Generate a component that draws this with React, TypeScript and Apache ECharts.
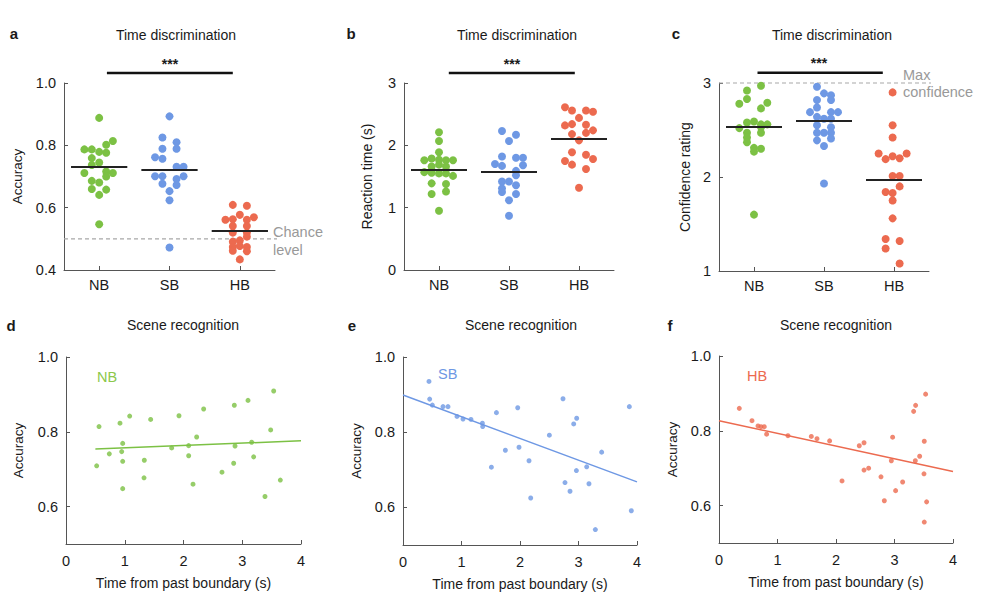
import React, { useEffect, useRef } from 'react';
import * as echarts from 'echarts';

// ---------- data ----------
const GROUPS = ['NB', 'SB', 'HB'];
const COLORS = ['#7cc144', '#6e98e4', '#ec6a4f'];

// Panel a: accuracy (time discrimination) — [jitter, value]
const accNB = [[0, 0.888], [0.195, 0.814], [0.1, 0.802], [-0.21, 0.787], [-0.105, 0.787], [0, 0.779], [0.1, 0.776], [-0.105, 0.759], [0, 0.745], [-0.105, 0.737], [-0.21, 0.711], [0.195, 0.711], [0.1, 0.716], [0.1, 0.7], [-0.105, 0.686], [0, 0.681], [-0.105, 0.66], [0.1, 0.658], [0, 0.641], [0, 0.547]];
const accSB = [[0, 0.893], [-0.1, 0.825], [0.1, 0.81], [-0.1, 0.789], [0.1, 0.789], [-0.205, 0.762], [-0.1, 0.757], [0.1, 0.731], [0.2, 0.731], [-0.205, 0.701], [-0.1, 0.701], [0.2, 0.701], [0.1, 0.692], [-0.1, 0.677], [0.1, 0.673], [0, 0.653], [0, 0.624], [0, 0.472]];
const accHB = [[-0.1, 0.609], [0.1, 0.606], [0, 0.577], [-0.205, 0.561], [-0.1, 0.563], [0.1, 0.561], [0.2, 0.569], [-0.1, 0.541], [0.1, 0.541], [-0.1, 0.52], [0.1, 0.52], [0.1, 0.507], [-0.1, 0.491], [0, 0.495], [-0.1, 0.474], [0, 0.477], [0.1, 0.474], [-0.1, 0.462], [0.1, 0.46], [0, 0.434]];
const accMeans = [0.73, 0.723, 0.526];

// Panel b: reaction time (s)
const rtNB = [[0, 2.21], [0, 2.07], [0, 1.89], [-0.21, 1.76], [-0.105, 1.79], [0, 1.77], [0.1, 1.76], [0.2, 1.76], [-0.105, 1.66], [0, 1.69], [0.1, 1.66], [-0.21, 1.57], [-0.105, 1.56], [0, 1.55], [0.1, 1.55], [0.2, 1.51], [-0.105, 1.39], [0.1, 1.38], [-0.105, 1.22], [0.1, 1.26], [0, 0.95]];
const rtSB = [[-0.1, 2.23], [0.1, 2.17], [0, 2.07], [-0.1, 1.82], [0.1, 1.8], [0.2, 1.8], [-0.2, 1.7], [-0.1, 1.67], [0.2, 1.68], [0.1, 1.59], [0.1, 1.52], [-0.1, 1.42], [0, 1.42], [0.1, 1.36], [-0.1, 1.31], [-0.1, 1.25], [0.1, 1.22], [0, 1.12], [0, 0.87]];
const rtHB = [[-0.2, 2.61], [-0.1, 2.56], [0.1, 2.56], [0.2, 2.54], [0, 2.44], [-0.2, 2.32], [-0.1, 2.34], [0.1, 2.33], [0.2, 2.24], [0.1, 2.2], [-0.1, 2.18], [0, 2.08], [-0.1, 1.89], [0.1, 1.85], [0.2, 1.78], [-0.2, 1.75], [-0.1, 1.69], [0.1, 1.62], [0, 1.32]];
const rtMeans = [1.61, 1.58, 2.1];

// Panel c: confidence rating
const confNB = [[0.1, 2.97], [-0.1, 2.92], [-0.1, 2.83], [-0.21, 2.78], [0.19, 2.79], [0.1, 2.73], [-0.1, 2.58], [0, 2.59], [0.1, 2.56], [0.19, 2.56], [-0.21, 2.52], [0.1, 2.53], [-0.1, 2.47], [0.1, 2.47], [-0.1, 2.42], [-0.1, 2.37], [0, 2.31], [0.1, 2.3], [0, 2.27], [0, 1.6]];
const confSB = [[-0.1, 2.96], [0, 2.89], [0.1, 2.87], [-0.1, 2.82], [0.1, 2.82], [-0.1, 2.74], [-0.2, 2.69], [0.1, 2.69], [0.2, 2.69], [-0.1, 2.64], [0, 2.62], [0.1, 2.62], [-0.1, 2.55], [0.1, 2.53], [-0.1, 2.47], [0, 2.47], [0.1, 2.47], [-0.1, 2.39], [0.1, 2.41], [0, 2.33], [0, 1.93]];
const confHB = [[-0.02, 2.9], [-0.02, 2.55], [-0.02, 2.42], [-0.22, 2.25], [-0.12, 2.19], [-0.02, 2.22], [0.08, 2.2], [0.18, 2.25], [-0.02, 2.01], [0.08, 2.01], [0.08, 1.9], [-0.12, 1.84], [-0.02, 1.83], [-0.02, 1.75], [-0.02, 1.56], [-0.12, 1.34], [0.08, 1.32], [-0.12, 1.24], [0.08, 1.08]];
const confMeans = [2.53, 2.6, 1.97];

// Significance bars ([x, y] endpoints in data units)
const sigA = [[1.11, 1.032], [2.9, 1.032]];
const sigB = [[1.14, 3.16], [2.94, 3.16]];
const sigC = [[1.05, 3.11], [2.84, 3.11]];

// Reference lines
const chanceLine = [[0.5, 0.5], [3.7, 0.5]];
const maxConfLine = [[0.5, 3], [3.7, 3]];

// Panels d–f: scene recognition — [time from boundary (s), accuracy]
const sceneNB = [[0.562, 0.814], [0.522, 0.709], [0.737, 0.741], [0.919, 0.823], [0.965, 0.769], [0.948, 0.747], [0.965, 0.721], [0.965, 0.648], [1.084, 0.842], [1.333, 0.724], [1.328, 0.677], [1.441, 0.833], [1.799, 0.757], [1.923, 0.843], [2.088, 0.763], [2.088, 0.736], [2.162, 0.66], [2.224, 0.786], [2.343, 0.861], [2.655, 0.692], [2.854, 0.716], [2.865, 0.871], [2.877, 0.762], [3.098, 0.884], [3.16, 0.772], [3.194, 0.733], [3.387, 0.627], [3.484, 0.805], [3.535, 0.909], [3.648, 0.671]];
const sceneSB = [[0.444, 0.935], [0.456, 0.888], [0.502, 0.872], [0.684, 0.868], [0.769, 0.868], [0.923, 0.842], [1.026, 0.835], [1.162, 0.834], [1.357, 0.824], [1.362, 0.815], [1.597, 0.852], [1.511, 0.707], [1.75, 0.752], [1.961, 0.865], [1.983, 0.76], [2.154, 0.724], [2.183, 0.625], [2.502, 0.792], [2.735, 0.889], [2.769, 0.666], [2.855, 0.643], [2.918, 0.822], [2.969, 0.837], [2.964, 0.698], [3.14, 0.708], [3.179, 0.663], [3.288, 0.541], [3.396, 0.747], [3.869, 0.868], [3.903, 0.591]];
const sceneHB = [[0.347, 0.86], [0.564, 0.827], [0.667, 0.813], [0.718, 0.811], [0.774, 0.811], [0.814, 0.791], [1.179, 0.787], [1.578, 0.785], [1.675, 0.779], [1.891, 0.773], [2.103, 0.666], [2.398, 0.76], [2.479, 0.768], [2.479, 0.695], [2.558, 0.7], [2.769, 0.677], [2.826, 0.613], [2.946, 0.72], [2.968, 0.783], [3.019, 0.64], [3.139, 0.663], [3.327, 0.852], [3.361, 0.868], [3.356, 0.72], [3.43, 0.732], [3.509, 0.772], [3.504, 0.685], [3.532, 0.898], [3.549, 0.61], [3.509, 0.556]];

// Regression fits: endpoints
const fitNB = [[0.5, 0.754], [4.0, 0.776]];
const fitSB = [[0, 0.899], [4.0, 0.668]];
const fitHB = [[0, 0.827], [4.0, 0.691]];

const bottomXTicks = [0, 1, 2, 3, 4];
const bottomYTicks = [0.6, 0.8, 1.0];

const FONT = '"Liberation Sans", Arial, Helvetica, sans-serif';
const AXIS_COLOR = '#555';
const TEXT = '#1a1a1a';

export default function App() {
  const ref = useRef<HTMLDivElement>(null);

  useEffect(() => {
    if (!ref.current) return;
    const chart = echarts.init(ref.current, null, { renderer: 'svg' });

    const topGrids = [
      { left: 64, top: 83, width: 211, height: 187 },
      { left: 404, top: 83, width: 210, height: 187 },
      { left: 719, top: 83, width: 210, height: 188 },
    ];
    const bottomGrids = [
      { left: 66, top: 357, width: 235, height: 187 },
      { left: 403, top: 357, width: 234, height: 188 },
      { left: 719, top: 356, width: 234, height: 187 },
    ];
    const grids = [...topGrids, ...bottomGrids];

    const axisLine = { show: true, lineStyle: { color: AXIS_COLOR, width: 1 } };
    const labelStyle = { color: TEXT, fontSize: 14.5, fontFamily: FONT };
    const nameStyle = { color: TEXT, fontSize: 13.5, fontFamily: FONT };

    const topY = [
      { min: 0.4, max: 1.0, interval: 0.2, name: 'Accuracy', gap: 40, size: 13.5, fmt: (v: number) => v.toFixed(1) },
      { min: 0, max: 3, interval: 1, name: 'Reaction time (s)', gap: 30, size: 14, fmt: (v: number) => String(v) },
      { min: 1, max: 3, interval: 1, name: 'Confidence rating', gap: 27, size: 14, fmt: (v: number) => String(v) },
    ];

    const xAxis: any[] = [];
    const yAxis: any[] = [];
    topY.forEach((c, i) => {
      xAxis.push({
        type: 'value', gridIndex: i, min: 0.5, max: 3.5,
        axisLine, splitLine: { show: false },
        axisTick: { show: true, inside: true, length: 4, lineStyle: { color: AXIS_COLOR }, customValues: [1, 2, 3] },
        axisLabel: {
          ...labelStyle, margin: 7, customValues: [1, 2, 3],
          formatter: (v: number) => (Number.isInteger(v) && v >= 1 && v <= 3 ? GROUPS[v - 1] : ''),
        },
      });
      yAxis.push({
        type: 'value', gridIndex: i, min: c.min, max: c.max, interval: c.interval,
        axisLine, splitLine: { show: false },
        axisTick: { show: true, inside: true, length: 4, lineStyle: { color: AXIS_COLOR } },
        axisLabel: { ...labelStyle, margin: 8, formatter: c.fmt },
        name: c.name, nameLocation: 'middle', nameGap: c.gap, nameRotate: 90,
        nameTextStyle: { ...nameStyle, fontSize: c.size },
      });
    });
    const bottomGaps = [41, 40, 40];
    bottomGrids.forEach((_, j) => {
      const gi = 3 + j;
      xAxis.push({
        type: 'value', gridIndex: gi, min: 0, max: 4, interval: 1,
        axisLine, splitLine: { show: false },
        axisTick: { show: true, inside: true, length: 4, lineStyle: { color: AXIS_COLOR }, customValues: bottomXTicks },
        axisLabel: { ...labelStyle, margin: 9, customValues: bottomXTicks },
        name: 'Time from past boundary (s)', nameLocation: 'middle', nameGap: 32,
        nameTextStyle: { ...nameStyle, fontSize: 14 },
      });
      yAxis.push({
        type: 'value', gridIndex: gi, min: 0.5, max: 1.0,
        axisLine, splitLine: { show: false },
        axisTick: { show: true, inside: true, length: 4, lineStyle: { color: AXIS_COLOR }, customValues: bottomYTicks },
        axisLabel: { ...labelStyle, margin: 8, customValues: bottomYTicks, formatter: (v: number) => v.toFixed(1) },
        name: 'Accuracy', nameLocation: 'middle', nameGap: bottomGaps[j], nameRotate: 90, nameTextStyle: nameStyle,
      });
    });

    const series: any[] = [];
    const topData = [
      { groups: [accNB, accSB, accHB], means: accMeans, sig: sigA, ref: chanceLine },
      { groups: [rtNB, rtSB, rtHB], means: rtMeans, sig: sigB, ref: null },
      { groups: [confNB, confSB, confHB], means: confMeans, sig: sigC, ref: maxConfLine },
    ];
    topData.forEach((p, i) => {
      if (p.ref) {
        series.push({
          type: 'line', xAxisIndex: i, yAxisIndex: i, data: p.ref, symbol: 'none', clip: false, silent: true,
          lineStyle: { color: '#a8a8a8', width: 1.2, type: [4, 3] }, z: 1,
        });
      }
      p.groups.forEach((g, k) => {
        series.push({
          type: 'scatter', xAxisIndex: i, yAxisIndex: i, symbolSize: 8, clip: false,
          itemStyle: { color: COLORS[k], opacity: 1 },
          data: g.map(([off, v]) => [k + 1 + off, v]),
          z: 2,
          markLine: {
            silent: true, symbol: ['none', 'none'], label: { show: false }, z: 5,
            lineStyle: { color: '#222', width: 2, type: 'solid' },
            data: [[{ coord: [k + 1 - 0.4, p.means[k]] }, { coord: [k + 1 + 0.4, p.means[k]] }]],
          },
        });
      });
      series.push({
        type: 'line', xAxisIndex: i, yAxisIndex: i, data: p.sig, symbol: 'none', clip: false, silent: true,
        lineStyle: { color: '#111', width: 2.5 }, z: 3,
      });
    });

    const bottomData = [
      { pts: sceneNB, fit: fitNB },
      { pts: sceneSB, fit: fitSB },
      { pts: sceneHB, fit: fitHB },
    ];
    bottomData.forEach((p, j) => {
      const gi = 3 + j;
      series.push({
        type: 'scatter', xAxisIndex: gi, yAxisIndex: gi, symbolSize: 5, clip: false,
        itemStyle: { color: COLORS[j] }, data: p.pts, z: 2,
      });
      series.push({
        type: 'line', xAxisIndex: gi, yAxisIndex: gi, data: p.fit, symbol: 'none', silent: true,
        lineStyle: { color: COLORS[j], width: 1.5 }, z: 3,
      });
    });

    const txt = (text: string, x: number, y: number, o: any = {}) => ({
      type: 'text', x, y, silent: true,
      style: {
        text, fill: o.fill || TEXT, fontSize: o.size || 13, fontFamily: FONT,
        fontWeight: o.weight || 'normal', align: o.align || 'center', verticalAlign: 'middle',
      },
    });

    const graphic = [
      txt('a', 14, 33, { weight: 'bold', size: 15 }),
      txt('b', 351, 33, { weight: 'bold', size: 15 }),
      txt('c', 676, 33, { weight: 'bold', size: 15 }),
      txt('d', 11, 325, { weight: 'bold', size: 15 }),
      txt('e', 352, 325, { weight: 'bold', size: 15 }),
      txt('f', 670, 325, { weight: 'bold', size: 15 }),
      txt('Time discrimination', 176, 35, { size: 14 }),
      txt('Time discrimination', 517, 35, { size: 14 }),
      txt('Time discrimination', 832, 35, { size: 14 }),
      txt('Scene recognition', 183, 325, { size: 14 }),
      txt('Scene recognition', 521, 325, { size: 14 }),
      txt('Scene recognition', 836, 325, { size: 14 }),
      txt('***', 170, 64, { size: 14, weight: 'bold' }),
      txt('***', 512, 64, { size: 14, weight: 'bold' }),
      txt('***', 819, 63, { size: 14, weight: 'bold' }),
      txt('Chance', 273, 232, { align: 'left', fill: '#999', size: 14.5 }),
      txt('level', 273, 250, { align: 'left', fill: '#999', size: 14.5 }),
      txt('Max', 903, 75, { align: 'left', fill: '#999', size: 14.5 }),
      txt('confidence', 903, 92, { align: 'left', fill: '#999', size: 14.5 }),
      txt('NB', 97, 377, { align: 'left', fill: '#8cc84b', size: 14.5 }),
      txt('SB', 438, 374, { align: 'left', fill: COLORS[1], size: 14.5 }),
      txt('HB', 747, 376, { align: 'left', fill: COLORS[2], size: 14.5 }),
    ];

    chart.setOption({
      animation: false,
      backgroundColor: '#fff',
      grid: grids,
      xAxis,
      yAxis,
      series,
      graphic,
    });

    return () => chart.dispose();
  }, []);

  return (
    <div
      ref={ref}
      style={{ position: 'fixed', left: 0, top: 0, width: 1000, height: 607, background: '#fff' }}
    />
  );
}
